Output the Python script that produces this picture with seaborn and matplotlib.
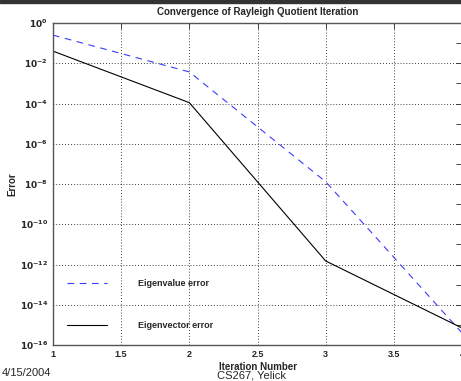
import numpy as np
import pandas as pd
import matplotlib
matplotlib.use("Agg")
import matplotlib.pyplot as plt
import seaborn as sns
from matplotlib.ticker import FixedLocator, FixedFormatter, NullFormatter

iterations = [1, 2, 3, 4]
eigenvalue_error = [2.5e-1, 3.7e-3, 1.3e-8, 4.0e-16]
eigenvector_error = [4.0e-2, 1.1e-4, 1.5e-12, 7.0e-16]
series_names = ["Eigenvalue error", "Eigenvector error"]
x_ticks = [1, 1.5, 2, 2.5, 3, 3.5, 4]
x_tick_labels = ["1", "1.5", "2", "2.5", "3", "3.5", "4"]
y_exponents = [0, -2, -4, -6, -8, -10, -12, -14, -16]

sns.set_style("white")
plt.rcParams["font.family"] = ["Liberation Sans", "DejaVu Sans"]

fig = plt.figure(figsize=(4.61, 3.81), dpi=100)
ax = fig.add_axes([53/461, 1 - 345/381, 409/461, (345 - 23)/381])

df = pd.DataFrame({
    "Iteration": iterations * 2,
    "Error": eigenvalue_error + eigenvector_error,
    "Series": [series_names[0]] * 4 + [series_names[1]] * 4,
})
sns.lineplot(data=df[df.Series == series_names[0]], x="Iteration", y="Error",
             color="#3b3bff", lw=0.8, ax=ax, label=series_names[0],
             dashes=False, linestyle=(0, (6, 5)))
sns.lineplot(data=df[df.Series == series_names[1]], x="Iteration", y="Error",
             color="black", lw=0.8, ax=ax, label=series_names[1])

ax.set_yscale("log")
ax.set_xlim(1, 4)
ax.set_ylim(1e-16, 1)
ax.xaxis.set_major_locator(FixedLocator(x_ticks))
ax.xaxis.set_major_formatter(FixedFormatter(x_tick_labels))
ax.yaxis.set_major_locator(FixedLocator([10.0**e for e in y_exponents]))
ax.yaxis.set_major_formatter(FixedFormatter([r"$\mathbf{10^{%d}}$" % e for e in y_exponents]))
ax.yaxis.set_minor_locator(FixedLocator([10.0**e for e in range(-15, 0, 2)]))
ax.yaxis.set_minor_formatter(NullFormatter())
ax.tick_params(axis="both", which="both", direction="in", labelsize=6.5)
ax.tick_params(axis="both", which="major", length=4, width=0.6)
ax.tick_params(axis="y", which="minor", length=4, width=0.6, right=True)
ax.tick_params(right=True, top=True)
for lbl in ax.get_xticklabels():
    lbl.set_fontweight("bold")
ax.grid(True, which="major", color="black", linestyle=(0, (1, 2.5)), linewidth=0.6)
for s in ax.spines.values():
    s.set_color("#555555")
    s.set_linewidth(1.0)

ax.set_title("Convergence of Rayleigh Quotient Iteration", fontsize=7, fontweight="bold", pad=6)
ax.set_xlabel("Iteration Number", fontsize=7, fontweight="bold", labelpad=2)
ax.set_ylabel("Error", fontsize=7, fontweight="bold", labelpad=2)

leg = ax.legend(loc="lower left", frameon=False, fontsize=6.5, handlelength=4.4,
                handletextpad=3.4, labelspacing=3.7, bbox_to_anchor=(0.015, 0.02))
for t in leg.get_texts():
    t.set_fontweight("bold")

fig.text(2/461, 1 - 373/381, "4/15/2004", fontsize=8, va="center", ha="left")
fig.text(251/461, 1 - 375/381, "CS267, Yelick", fontsize=8, va="center", ha="center")
fig.patches.append(plt.Rectangle((0, 1 - 3/381), 1, 3/381, transform=fig.transFigure,
                                 color="#333333", zorder=10))

fig.savefig("out.png", dpi=100)
